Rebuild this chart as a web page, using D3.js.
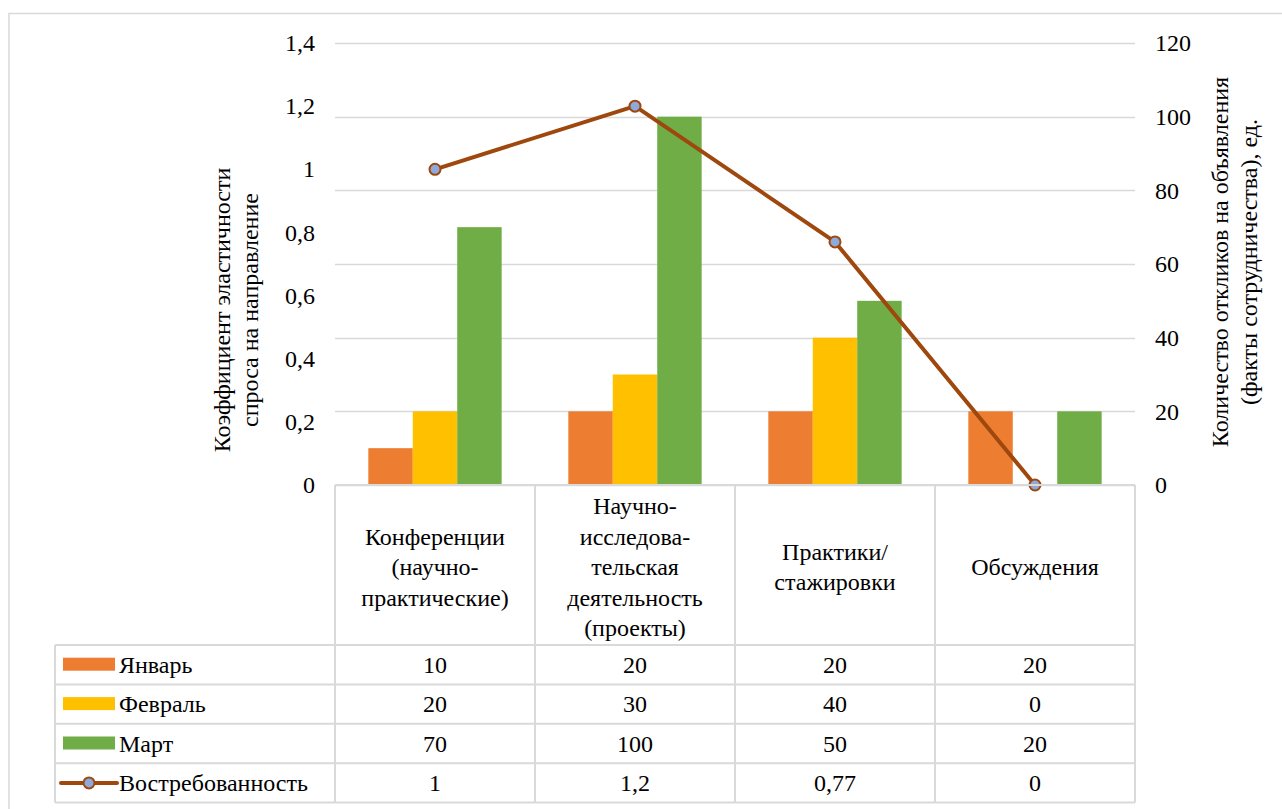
<!DOCTYPE html>
<html lang="ru">
<head>
<meta charset="utf-8">
<script src="https://cdn.jsdelivr.net/npm/d3@7"></script>
<style>
  html, body { margin: 0; padding: 0; background: #fff; }
</style>
</head>
<body>
<svg id="chart" width="1282" height="809"></svg>
<script>
// Categories (multi-line labels for the table header)
const categories = [
  ["Конференции", "(научно-", "практические)"],
  ["Научно-", "исследова-", "тельская", "деятельность", "(проекты)"],
  ["Практики/", "стажировки"],
  ["Обсуждения"]
];
// Responses per month (right axis)
const seriesNames = ["Январь", "Февраль", "Март"];
const january  = [10, 20, 20, 20];
const february = [20, 30, 40, 0];
const march    = [70, 100, 50, 20];
// Demand elasticity (left axis)
const demandName = "Востребованность";
const demand = [1, 1.2, 0.77, 0];

const leftTicks  = [0, 0.2, 0.4, 0.6, 0.8, 1, 1.2, 1.4];
const rightTicks = [0, 20, 40, 60, 80, 100, 120];

const leftTitle  = ["Коэффициент эластичности", "спроса на направление"];
const rightTitle = ["Количество откликов на объявления", "(факты сотрудничества), ед."];

const barSeries = [january, february, march];
const barColors = ["#ED7D31", "#FFC000", "#70AD47"];
const lineColor = "#9E480E";
const markerFill = "#8EA9DB";
const gridColor = "#D9D9D9";
const FONT = "'Liberation Serif', 'Times New Roman', 'DejaVu Serif', serif";

const ru = d3.formatLocale({ decimal: ",", thousands: " ", grouping: [3], currency: ["", ""] });
const fmt = v => ru.format("~g")(v);

const svg = d3.select("#chart").style("font-family", FONT);
const plot = { left: 335, right: 1135, top: 43, bottom: 485 };
const fontSize = 24;

// Outer chart frame
svg.append("rect")
  .attr("x", 9).attr("y", 13.5).attr("width", 1290).attr("height", 820)
  .attr("fill", "none").attr("stroke", gridColor).attr("stroke-width", 1.5);

const x0 = d3.scaleBand().domain(d3.range(categories.length)).range([plot.left, plot.right]);
const x1 = d3.scaleBand().domain(d3.range(barSeries.length))
  .range([0, x0.bandwidth()]).paddingInner(0).paddingOuter(0.75);
const yL = d3.scaleLinear().domain([0, 1.4]).range([plot.bottom, plot.top]);
const yR = d3.scaleLinear().domain([0, 120]).range([plot.bottom, plot.top]);

// Gridlines
svg.append("g").selectAll("line").data(rightTicks).join("line")
  .attr("x1", plot.left).attr("x2", plot.right)
  .attr("y1", d => Math.round(yR(d)) + 0.5).attr("y2", d => Math.round(yR(d)) + 0.5)
  .attr("stroke", gridColor).attr("stroke-width", 1.3);

// Left axis labels
const gL = svg.append("g").attr("transform", `translate(${plot.left},0)`)
  .call(d3.axisLeft(yL).tickValues(leftTicks).tickFormat(fmt).tickSize(0).tickPadding(20));
gL.attr("font-family", null).attr("font-size", null);
gL.select(".domain").remove();
gL.selectAll("text").style("font-family", FONT).style("font-size", fontSize + "px");

// Right axis labels
const gR = svg.append("g").attr("transform", `translate(${plot.right},0)`)
  .call(d3.axisRight(yR).tickValues(rightTicks).tickFormat(fmt).tickSize(0).tickPadding(20));
gR.attr("font-family", null).attr("font-size", null);
gR.select(".domain").remove();
gR.selectAll("text").style("font-family", FONT).style("font-size", fontSize + "px");

// Bars
barSeries.forEach((vals, s) => {
  svg.append("g").selectAll("rect").data(vals).join("rect")
    .attr("x", (d, i) => x0(i) + x1(s))
    .attr("width", x1.bandwidth())
    .attr("y", d => yR(d))
    .attr("height", d => yR(0) - yR(d))
    .attr("fill", barColors[s]);
});

// Demand line with markers
const cx = i => x0(i) + x0.bandwidth() / 2;
svg.append("path")
  .datum(demand)
  .attr("d", d3.line().x((d, i) => cx(i)).y(d => yL(d)))
  .attr("fill", "none").attr("stroke", lineColor).attr("stroke-width", 4)
  .attr("stroke-linejoin", "round");
svg.append("g").selectAll("circle").data(demand).join("circle")
  .attr("cx", (d, i) => cx(i)).attr("cy", d => yL(d)).attr("r", 5.5)
  .attr("fill", markerFill).attr("stroke", lineColor).attr("stroke-width", 2);

function label(sel) {
  return sel.style("font-family", FONT).style("font-size", fontSize + "px").attr("fill", "#000");
}

// Axis titles
function rotatedTitle(lines, x, y, gap) {
  const t = label(svg.append("text"))
    .attr("transform", `translate(${x},${y}) rotate(-90)`)
    .attr("text-anchor", "middle");
  lines.forEach((l, i) => t.append("tspan").attr("x", 0).attr("y", i * gap).text(l));
}
rotatedTitle(leftTitle, 230, 310, 28);
rotatedTitle(rightTitle, 1228, 262, 29);

// Data table
const table = { headTop: 485, headBottom: 645, rowH: 39.4, legendLeft: 55 };
const rows = [
  { name: seriesNames[0], vals: january, color: barColors[0], type: "bar" },
  { name: seriesNames[1], vals: february, color: barColors[1], type: "bar" },
  { name: seriesNames[2], vals: march, color: barColors[2], type: "bar" },
  { name: demandName, vals: demand, color: lineColor, type: "line" }
];
const tableBottom = table.headBottom + rows.length * table.rowH;
const tg = svg.append("g").attr("stroke", gridColor).attr("stroke-width", 2);

// Horizontal rules
tg.append("line").attr("x1", plot.left).attr("x2", plot.right)
  .attr("y1", table.headTop).attr("y2", table.headTop);
d3.range(rows.length + 1).forEach(r => {
  const y = table.headBottom + r * table.rowH;
  tg.append("line").attr("x1", table.legendLeft).attr("x2", plot.right).attr("y1", y).attr("y2", y);
});
// Vertical rules
d3.range(categories.length + 1).forEach(i => {
  const x = plot.left + i * x0.bandwidth();
  tg.append("line").attr("x1", x).attr("x2", x).attr("y1", table.headTop).attr("y2", tableBottom);
});
tg.append("line").attr("x1", table.legendLeft).attr("x2", table.legendLeft)
  .attr("y1", table.headBottom).attr("y2", tableBottom);

// Category headers
const lineGap = 30.5;
categories.forEach((lines, i) => {
  const midY = 567;
  const startY = midY - (lines.length - 1) * lineGap / 2;
  const t = label(svg.append("text")).attr("text-anchor", "middle")
    .attr("dominant-baseline", "central");
  lines.forEach((l, k) => t.append("tspan").attr("x", cx(i)).attr("y", startY + k * lineGap).text(l));
});

// Rows: legend key, name and values
rows.forEach((row, r) => {
  const yMid = table.headBottom + r * table.rowH + table.rowH / 2;
  if (row.type === "bar") {
    svg.append("rect").attr("x", 63).attr("y", yMid - 7).attr("width", 52).attr("height", 13)
      .attr("fill", row.color);
  } else {
    svg.append("line").attr("x1", 61).attr("x2", 117).attr("y1", yMid).attr("y2", yMid)
      .attr("stroke", row.color).attr("stroke-width", 4).attr("stroke-linecap", "round");
    svg.append("circle").attr("cx", 89).attr("cy", yMid).attr("r", 5.5)
      .attr("fill", markerFill).attr("stroke", row.color).attr("stroke-width", 2);
  }
  label(svg.append("text")).attr("x", 119).attr("y", yMid).attr("dominant-baseline", "central")
    .text(row.name);
  row.vals.forEach((v, i) => {
    label(svg.append("text")).attr("x", cx(i)).attr("y", yMid).attr("text-anchor", "middle")
      .attr("dominant-baseline", "central").text(fmt(v));
  });
});
</script>
</body>
</html>
